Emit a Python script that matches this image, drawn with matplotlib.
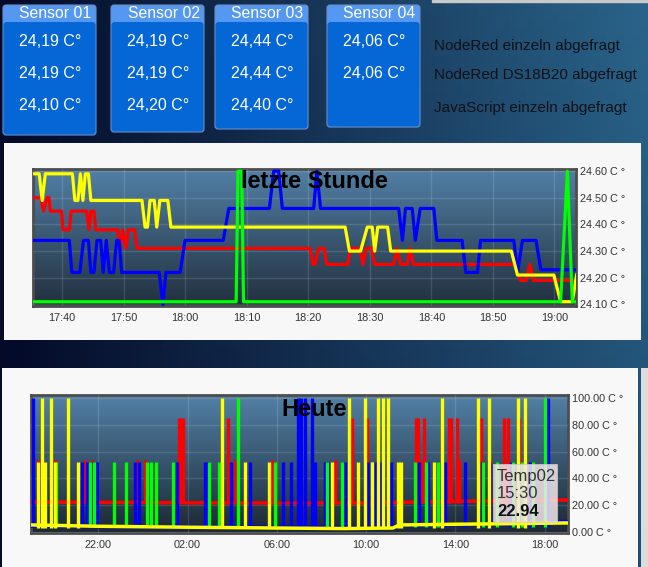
import numpy as np
import matplotlib.pyplot as plt
from matplotlib.patches import Rectangle, FancyBboxPatch

plt.rcParams['font.family'] = ['Liberation Sans', 'DejaVu Sans']

W, H = 648, 567

# sensor tiles
sensor_names = ['Sensor 01', 'Sensor 02', 'Sensor 03', 'Sensor 04']
sensor_values = [
    ['24,19 C°', '24,19 C°', '24,10 C°'],
    ['24,19 C°', '24,19 C°', '24,20 C°'],
    ['24,44 C°', '24,44 C°', '24,40 C°'],
    ['24,06 C°', '24,06 C°'],
]
source_labels = ['NodeRed einzeln abgefragt', 'NodeRed DS18B20 abgefragt',
                 'JavaScript einzeln abgefragt']

# "letzte Stunde": minutes after 17:00
hour_ticks = [40, 50, 60, 70, 80, 90, 100, 110, 120]
hour_labels = ['17:40', '17:50', '18:00', '18:10', '18:20', '18:30', '18:40', '18:50', '19:00']
hour_yticks = [24.1, 24.2, 24.3, 24.4, 24.5, 24.6]

red_t = [35.3, 36.6, 37.0, 37.6, 37.9, 38.1, 39.9, 40.2, 41.2, 41.5, 44.0, 44.4, 44.7, 45.2,
         45.5, 49.1, 49.4, 49.9, 50.4, 50.8, 51.8, 52.2, 80.3, 80.8, 81.1, 81.7, 82.6, 83.0,
         86.4, 86.9, 88.4, 88.9, 89.4, 90.3, 90.8, 93.9, 94.4, 95.0, 96.1, 96.5, 97.1,
         113.6, 114.5, 115.4, 116.0, 116.6, 123.5]
red_v = [24.50, 24.50, 24.45, 24.50, 24.50, 24.45, 24.45, 24.38, 24.38, 24.45, 24.45, 24.38,
         24.45, 24.45, 24.38, 24.38, 24.31, 24.38, 24.31, 24.38, 24.38, 24.31, 24.31, 24.25,
         24.25, 24.31, 24.31, 24.25, 24.25, 24.31, 24.31, 24.25, 24.31, 24.31, 24.25, 24.25,
         24.31, 24.25, 24.25, 24.31, 24.25, 24.25, 24.19, 24.19, 24.25, 24.19, 24.19]

blue_t = [35.3, 41.2, 41.6, 42.9, 43.5, 44.3, 44.7, 45.2, 45.7, 46.3, 46.7, 47.2, 47.7, 48.4,
          48.9, 49.3, 49.7, 55.8, 56.4, 56.9, 59.2, 60.0, 66.2, 67.1, 73.7, 74.4, 75.2, 75.8,
          80.9, 81.4, 82.0, 94.7, 95.3, 95.8, 96.9, 97.4, 98.2, 100.4, 100.9, 105.0, 105.6,
          107.5, 108.0, 113.4, 114.0, 114.8, 117.0, 117.8, 123.5]
blue_v = [24.34, 24.34, 24.22, 24.22, 24.34, 24.34, 24.22, 24.22, 24.34, 24.34, 24.22, 24.34,
          24.22, 24.22, 24.34, 24.34, 24.22, 24.22, 24.10, 24.22, 24.22, 24.34, 24.34, 24.46,
          24.46, 24.60, 24.60, 24.46, 24.46, 24.60, 24.46, 24.46, 24.34, 24.46, 24.46, 24.34,
          24.46, 24.46, 24.34, 24.34, 24.22, 24.22, 24.34, 24.34, 24.22, 24.34, 24.34, 24.23,
          24.23]

yellow_t = [35.3, 36.3, 36.8, 37.3, 41.7, 42.1, 42.6, 43.0, 43.4, 43.8, 44.3, 44.7, 53.0,
            53.5, 53.9, 54.3, 55.0, 55.4, 55.9, 57.2, 57.7, 86.0, 86.7, 88.5, 89.6, 90.4, 90.8,
            91.3, 92.9, 93.4, 113.0, 114.0, 119.9, 121.0, 122.9, 123.6]
yellow_v = [24.59, 24.59, 24.49, 24.59, 24.59, 24.49, 24.49, 24.59, 24.49, 24.59, 24.59,
            24.49, 24.49, 24.39, 24.39, 24.49, 24.49, 24.39, 24.49, 24.49, 24.39, 24.39, 24.30,
            24.30, 24.39, 24.39, 24.30, 24.39, 24.39, 24.30, 24.30, 24.21, 24.21, 24.11, 24.11,
            24.21]

green_t = [35.3, 68.3, 68.6, 69.2, 69.5, 121.0, 122.1, 122.9, 123.5]
green_v = [24.11, 24.11, 24.60, 24.60, 24.11, 24.11, 24.60, 24.11, 24.11]

# "Heute": hours after midnight of the previous day
day_ticks = [22, 26, 30, 34, 38, 42]
day_labels = ['22:00', '02:00', '06:00', '10:00', '14:00', '18:00']
day_yticks = [0, 20, 40, 60, 80, 100]

red_base_h = [18.98, 28.0, 34.0, 38.0, 43.05]
red_base_v = [22.5, 21.8, 21.8, 23.0, 24.0]
red_peak_h = [25.61, 25.71, 25.81, 27.83, 33.39, 34.03, 36.24, 36.33, 36.61, 37.72, 37.81,
              38.07, 39.16, 40.20, 40.38, 40.87,
              19.30, 20.05, 21.40, 21.70, 23.79, 24.09, 28.13, 29.80, 32.61, 36.50, 38.17, 39.56]
red_peak_v = [85] * 16 + [54] * 12

blue_base_h = [18.98, 35.3, 35.6, 42.2, 42.3, 43.05]
blue_base_v = [4.5, 3.5, 5.5, 6.0, 8.0, 8.0]
blue_peak_h = [19.07, 30.96, 31.10, 31.26, 31.59, 42.15,
               21.28, 21.48, 21.70, 21.92, 23.64, 23.83, 25.51, 26.78, 26.86, 27.95, 28.80,
               30.29, 30.64, 31.71, 32.16, 32.31, 33.06, 34.08, 34.40, 34.67, 35.12, 36.35,
               36.79, 37.54, 38.44, 39.19, 39.56, 40.50, 41.35]
blue_peak_v = [100] * 6 + [52] * 29

green_peak_h = [28.25, 42.03,
                20.09, 21.62, 21.82, 22.71, 23.22, 24.17, 24.36, 24.58, 25.36, 26.96, 27.41,
                29.92, 32.24, 32.91, 34.26, 36.17, 36.68, 37.24, 39.26, 39.86, 40.60, 41.00,
                41.50]
green_peak_v = [100] * 2 + [52] * 23

yellow_base_h = [18.98, 22.0, 26.0, 30.0, 33.0, 35.2, 35.5, 38.0, 41.0, 43.05]
yellow_base_v = [5.5, 4.5, 3.8, 3.2, 2.8, 3.2, 5.5, 6.0, 6.5, 7.0]
yellow_peak_h = [19.46, 19.87, 20.65, 27.53, 33.25, 33.96, 34.52, 34.78, 34.97, 37.39, 39.01,
                 39.53, 40.83, 41.13,
                 19.30, 19.61, 20.05, 21.07, 28.57, 29.65, 32.46, 33.65, 34.28, 35.45, 35.57,
                 37.06]
yellow_peak_v = [100] * 14 + [52] * 12

tooltip_lines = ['Temp02', '15:30', '22.94']

RED, BLUE, GREEN, YELLOW = '#ff0000', '#0000ff', '#00ff00', '#ffff00'


def box(l, t, r, b):
    return [l / W, 1 - b / H, (r - l) / W, (b - t) / H]


def shade(ax, top, bottom):
    g = np.linspace(0, 1, 200)[:, None, None]
    img = np.array(top)[None, None, :] * (1 - g) + np.array(bottom)[None, None, :] * g
    ax.imshow(img / 255, extent=[0, 1, 0, 1], transform=ax.transAxes,
              aspect='auto', zorder=0, origin='upper')


fig = plt.figure(figsize=(W / 100, H / 100), dpi=100)

# page background
bg = fig.add_axes([0, 0, 1, 1])
bg.set_xlim(0, W)
bg.set_ylim(H, 0)
bg.axis('off')
xs = np.linspace(0, 1, 80)[None, :, None]
ys = np.linspace(0, 1, 80)[:, None, None]
c_left = np.array([4, 10, 40]) / 255
c_right = np.array([42, 100, 138]) / 255
img = c_left + (c_right - c_left) * xs * (1 - 0.25 * ys)
bg.imshow(img, extent=[0, W, H, 0], aspect='auto', zorder=0)

bg.add_patch(Rectangle((432, 0), 216, 2, color='#c9c9c9', zorder=1))

# sensor tiles
tiles = [(3, 96, 135), (111, 204, 132), (215, 308, 129), (327, 420, 127)]
for (l, r, b), name, vals in zip(tiles, sensor_names, sensor_values):
    bg.add_patch(FancyBboxPatch((l, 5), r - l, b - 5, boxstyle='round,pad=0,rounding_size=3',
                                fc='#5598f2', ec='#6c8fc4', lw=0.8, zorder=2))
    bg.add_patch(FancyBboxPatch((l + 0.5, 22), r - l - 1, b - 22.5,
                                boxstyle='round,pad=0,rounding_size=3',
                                fc='#0567d6', ec='none', zorder=3))
    bg.text((l + r) / 2 + 6, 14, name, color='white', fontsize=11.3, ha='center', va='center', zorder=4)
    for k, v in enumerate(vals):
        bg.text(l + 16, [42, 73, 106][k], v, color='white', fontsize=11.5,
                ha='left', va='center', zorder=4)

for k, s in enumerate(source_labels):
    bg.text(434, [46, 75, 108][k], s, color='#111118', fontsize=11, ha='left', va='center')

# white panels
bg.add_patch(Rectangle((4, 143), 637, 197, fc='#f7f7f7', ec='none', zorder=1))
bg.add_patch(Rectangle((2, 368), 636, 200, fc='#f8f8f8', ec='none', zorder=1))
bg.add_patch(Rectangle((641, 368), 7, 200, fc='#dcdcdc', ec='none', zorder=1))

# chart 1: letzte Stunde
ax1 = fig.add_axes(box(33, 169, 576, 306))
shade(ax1, (82, 128, 166), (34, 48, 62))
ax1.plot(red_t, red_v, color=RED, lw=2.3, zorder=3)
ax1.plot(blue_t, blue_v, color=BLUE, lw=2.3, zorder=4)
ax1.plot(yellow_t, yellow_v, color=YELLOW, lw=2.3, zorder=5)
ax1.plot(green_t, green_v, color=GREEN, lw=2.3, zorder=6)
ax1.set_xlim(35.3, 123.5)
ax1.set_ylim(24.094, 24.608)
ax1.set_xticks(hour_ticks)
ax1.set_xticklabels(hour_labels)
ax1.set_yticks(hour_yticks)
ax1.set_yticklabels(['%.2f C °' % v for v in hour_yticks])

# chart 2: Heute
ax2 = fig.add_axes(box(31, 395, 568, 533))
shade(ax2, (82, 128, 166), (28, 40, 52))
ax2.plot(red_base_h, red_base_v, color=RED, lw=2.5, zorder=3)
ax2.vlines(red_peak_h, 22, red_peak_v, color=RED, lw=2.4, zorder=3)
ax2.plot(blue_base_h, blue_base_v, color=BLUE, lw=2.5, zorder=4)
ax2.vlines(blue_peak_h, 4, blue_peak_v, color=BLUE, lw=2.4, zorder=4)
ax2.vlines(green_peak_h, 4, green_peak_v, color=GREEN, lw=2.4, zorder=5)
ax2.plot(yellow_base_h, yellow_base_v, color=YELLOW, lw=2.5, zorder=6)
ax2.vlines(yellow_peak_h, 3, yellow_peak_v, color=YELLOW, lw=2.4, zorder=6)
ax2.set_xlim(18.98, 43.05)
ax2.set_ylim(-0.5, 102)
ax2.set_xticks(day_ticks)
ax2.set_xticklabels(day_labels)
ax2.set_yticks(day_yticks)
ax2.set_yticklabels(['%.2f C °' % v for v in day_yticks])

for ax in (ax1, ax2):
    ax.grid(True, color='white', alpha=0.12, lw=1)
    ax.set_axisbelow(False)
    ax.yaxis.tick_right()
    ax.tick_params(length=0, labelsize=7.8, labelcolor='#333333')
    ax.tick_params(axis='x', pad=5)
    ax.tick_params(axis='y', pad=3)
    for sp in ax.spines.values():
        sp.set_color('#4d4d4d')
        sp.set_linewidth(2)

# titles and tooltip on top
top = fig.add_axes([0, 0, 1, 1])
top.set_xlim(0, W)
top.set_ylim(H, 0)
top.axis('off')
top.patch.set_alpha(0)
top.text(314.5, 182, 'letzte Stunde', fontsize=17, fontweight='bold', color='black',
         ha='center', va='center')
top.text(314, 409, 'Heute', fontsize=17, fontweight='bold', color='black',
         ha='center', va='center')
top.add_patch(Rectangle((493, 464), 64, 58, fc='#f3e6ea', ec='#d8c8c8', lw=0.6, alpha=0.85))
top.text(497, 477, tooltip_lines[0], fontsize=12, color='#333333', ha='left', va='center')
top.text(497, 494, tooltip_lines[1], fontsize=12, color='#333333', ha='left', va='center')
top.text(497, 511, tooltip_lines[2], fontsize=12, color='#111111', fontweight='bold',
         ha='left', va='center')

fig.savefig('out.png', dpi=100)
